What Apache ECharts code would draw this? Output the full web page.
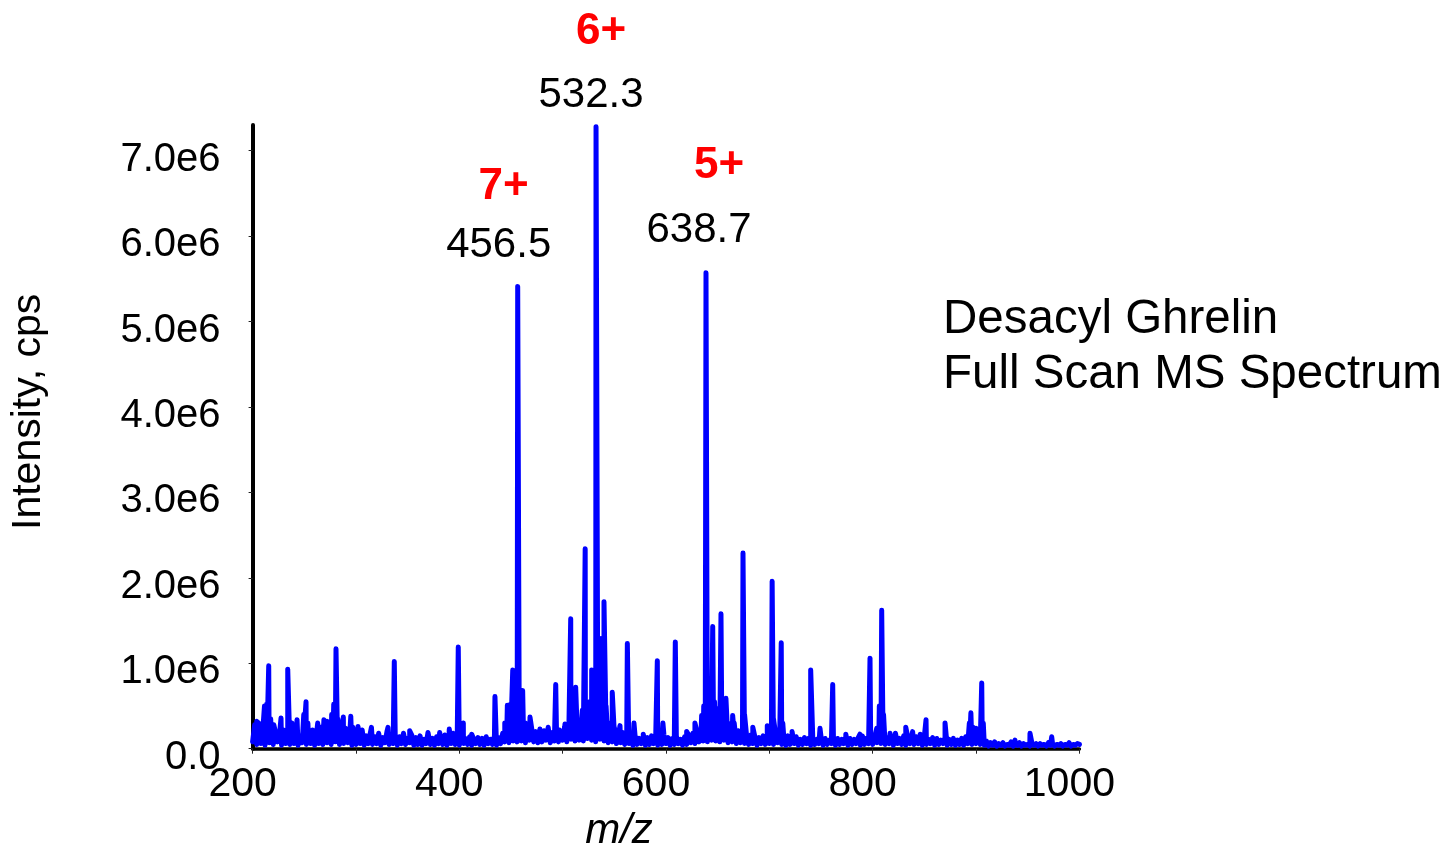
<!DOCTYPE html>
<html>
<head>
<meta charset="utf-8">
<title>Desacyl Ghrelin Full Scan MS Spectrum</title>
<script src="https://cdn.jsdelivr.net/npm/echarts@6/dist/echarts.min.js"></script>
<style>
  html, body { margin: 0; padding: 0; background: #ffffff; overflow: hidden; }
  #chart { width: 1456px; height: 843px; }
</style>
</head>
<body>
<div id="chart"></div>
<script>
const FONT = "'Liberation Sans', Arial, Helvetica, sans-serif";

// m/z axis
const mzMin = 200;
const mzMax = 1000;
const xTickValues = [200, 300, 400, 500, 600, 700, 800, 900, 1000];
const xTickLabels = ['200', '', '400', '', '600', '', '800', '', '1000'];

// intensity axis
const yMax = 7.3e6;
const yTickValues = [0, 1e6, 2e6, 3e6, 4e6, 5e6, 6e6, 7e6];
const yTickLabels = ['0.0', '1.0e6', '2.0e6', '3.0e6', '4.0e6', '5.0e6', '6.0e6', '7.0e6'];

// chemical noise floor, one sample every 2 m/z from 200, in units of 1e4 cps
const noiseStart = 200;
const noiseStep = 2;
const noiseUnit = 1e4;
const noise = [
  8, 28, 5, 30, 6, 24, 4, 18, 7, 22,    // 200
  5, 20, 8, 16, 4, 22, 6, 14, 5, 18,    // 220
  6, 20, 4, 15, 7, 24, 5, 17, 6, 14,    // 240
  4, 19, 6, 25, 5, 16, 7, 21, 5, 26,    // 260
  8, 22, 5, 18, 6, 24, 7, 16, 4, 20,    // 280
  5, 17, 6, 22, 4, 15, 6, 19, 5, 14,    // 300
  6, 18, 4, 13, 7, 20, 5, 16, 6, 15,    // 320
  4, 14, 6, 18, 5, 12, 7, 16, 4, 13,    // 340
  5, 15, 4, 11, 6, 17, 5, 12, 4, 14,    // 360
  6, 13, 5, 16, 4, 12, 6, 18, 5, 14,    // 380
  4, 15, 6, 12, 5, 14, 4, 11, 6, 13,    // 400
  5, 12, 4, 14, 6, 11, 5, 15, 4, 13,    // 420
  6, 18, 8, 22, 7, 25, 9, 28, 8, 24,    // 440
  9, 26, 7, 22, 10, 24, 8, 20, 7, 23,   // 460
  8, 21, 10, 25, 7, 19, 9, 24, 8, 20,   // 480
  10, 26, 8, 22, 11, 28, 9, 24, 10, 27, // 500
  9, 25, 12, 30, 10, 28, 8, 26, 11, 24, // 520
  9, 22, 7, 20, 8, 18, 6, 16, 7, 19,    // 540
  5, 15, 6, 13, 4, 16, 5, 12, 6, 14,    // 560
  4, 13, 5, 15, 6, 12, 4, 14, 5, 16,    // 580
  6, 13, 4, 12, 5, 15, 6, 11, 4, 14,    // 600
  5, 16, 7, 18, 6, 20, 8, 22, 9, 25,    // 620
  8, 24, 10, 26, 9, 22, 8, 25, 10, 23,  // 640
  7, 20, 8, 18, 6, 21, 7, 17, 6, 15,    // 660
  5, 16, 6, 14, 4, 13, 6, 15, 5, 17,    // 680
  6, 15, 5, 18, 7, 14, 5, 13, 4, 15,    // 700
  5, 12, 6, 14, 4, 11, 5, 13, 6, 12,    // 720
  4, 13, 5, 11, 6, 14, 4, 12, 5, 10,    // 740
  6, 13, 4, 12, 5, 11, 6, 14, 4, 12,    // 760
  5, 11, 6, 13, 4, 15, 5, 12, 6, 16,    // 780
  5, 14, 7, 18, 6, 15, 5, 13, 6, 16,    // 800
  4, 14, 6, 12, 5, 15, 4, 13, 6, 16,    // 820
  5, 14, 6, 12, 4, 15, 5, 11, 6, 13,    // 840
  4, 12, 5, 10, 6, 13, 4, 11, 5, 12,    // 860
  4, 10, 5, 12, 4, 14, 6, 13, 5, 15,    // 880
  6, 14, 5, 12, 4, 9, 3, 7, 4, 8,       // 900
  3, 6, 4, 7, 3, 5, 4, 8, 3, 6,         // 920
  4, 7, 3, 6, 4, 5, 3, 7, 4, 6,         // 940
  3, 6, 4, 5, 3, 7, 4, 6, 3, 5,         // 960
  4, 6, 3, 5, 4, 7, 3, 5, 4, 6,         // 980
  5                                     // 1000
];

// ion peaks: [m/z, intensity in 1e6 cps]
const peakUnit = 1e6;
const peaks = [
  [204, 0.32], [207.5, 0.30],
  [211.5, 0.50], [213.5, 0.52], [215.6, 0.97], [217.5, 0.35],
  [220.5, 0.28], [227.5, 0.36], [234, 0.93], [238, 0.30], [243, 0.34],
  [249.5, 0.40], [251.7, 0.55], [253.5, 0.30], [258, 0.22], [263, 0.30],
  [269, 0.34], [272, 0.32],
  [276.5, 0.40], [278.5, 0.52], [280.7, 1.17], [282.5, 0.35],
  [287.8, 0.37], [295, 0.38], [297, 0.25], [302, 0.26],
  [315, 0.25], [322, 0.20], [331, 0.25], [337.1, 1.02],
  [352, 0.21], [369.7, 0.19], [381, 0.19], [390.3, 0.23],
  [399.0, 1.19], [403.9, 0.30], [412, 0.17], [434.5, 0.61],
  [444, 0.30], [446.5, 0.51], [449.5, 0.52], [451.7, 0.92],
  [456.5, 5.41],
  [458.5, 0.60], [461.3, 0.68], [464, 0.30], [468.4, 0.37], [478, 0.19],
  [493.3, 0.75], [497, 0.22], [502.3, 0.29], [507.8, 1.52], [510, 0.35],
  [512.6, 0.72], [516, 0.30], [519, 0.45], [521.8, 2.34], [524, 0.50],
  [526, 0.55], [528.1, 0.92], [530, 0.60],
  [532.3, 7.28],
  [534.5, 0.80], [537.1, 1.29], [538.5, 0.80], [540, 1.72], [542, 0.50],
  [545, 0.30], [548, 0.66], [550, 0.25], [555.5, 0.27], [562.6, 1.23],
  [569, 0.30], [578, 0.17], [591.6, 1.03], [597, 0.30], [609, 1.25],
  [620, 0.20], [628, 0.30], [634.5, 0.39], [636.5, 0.50],
  [638.7, 5.57],
  [640.5, 0.60], [642.2, 0.67], [645.2, 1.43], [647, 0.55], [650, 0.47],
  [653.2, 1.58], [655, 0.50], [658, 0.59], [660, 0.30], [664.5, 0.39],
  [666, 0.30], [674.5, 2.29], [676, 0.40], [684, 0.25], [698, 0.27],
  [702.7, 1.96], [704, 0.35], [711.5, 1.24], [713, 0.30], [722, 0.20],
  [740, 0.92], [749, 0.24], [761.3, 0.75], [774, 0.17], [787.7, 0.17],
  [797.4, 1.06], [803.9, 0.24], [806.4, 0.50], [808.7, 1.62], [810.5, 0.40],
  [816.8, 0.18], [822, 0.18], [832, 0.25], [838.6, 0.20], [846, 0.17],
  [851.6, 0.34], [870, 0.30], [887.7, 0.14],
  [893.5, 0.30], [895, 0.42], [897, 0.25], [900, 0.24],
  [905.5, 0.77], [907, 0.30],
  [937.7, 0.10], [952.2, 0.18], [973.2, 0.14]
];

// charge-state assignments of the labelled ions
const labelledMz = [456.5, 532.3, 638.7];
const chargeStates = ['7+', '6+', '5+'];

// label placement around each labelled apex (pixels)
const mzLabelOffsets = [[-19, -41], [-5, -31], [-7, -42]];
const chargeLabelOffsets = [[-14, -100], [5, -95], [13, -107]];

// ---- assemble the profile trace ----
const points = [];
noise.forEach(function (v, i) {
  points.push([noiseStart + i * noiseStep, v * noiseUnit]);
});
peaks.forEach(function (p) {
  points.push([p[0], p[1] * peakUnit]);
});
points.sort(function (a, b) { return a[0] - b[0]; });

function apexOf(mz) {
  const p = peaks.find(function (q) { return q[0] === mz; });
  return [p[0], p[1] * peakUnit];
}

const mzLabelData = labelledMz.map(function (mz, i) {
  return { value: apexOf(mz), label: { offset: mzLabelOffsets[i] } };
});
const chargeLabelData = labelledMz.map(function (mz, i) {
  return { value: apexOf(mz), name: chargeStates[i], label: { offset: chargeLabelOffsets[i] } };
});

const chart = echarts.init(document.getElementById('chart'), null, { renderer: 'canvas' });

chart.setOption({
  animation: false,
  backgroundColor: '#ffffff',
  textStyle: { fontFamily: FONT },
  title: {
    text: 'Desacyl Ghrelin\nFull Scan MS Spectrum',
    left: 943,
    top: 292,
    padding: 0,
    textStyle: {
      fontFamily: FONT,
      fontSize: 47.5,
      fontWeight: 'normal',
      color: '#000000',
      lineHeight: 55
    }
  },
  grid: {
    left: 252.6,
    right: 376.6,
    top: 125,
    bottom: 94.3,
    containLabel: false,
    outerBoundsMode: 'none'
  },
  xAxis: {
    type: 'value',
    min: mzMin,
    max: mzMax,
    interval: 100,
    name: 'm/z',
    nameLocation: 'middle',
    nameGap: 62,
    nameTextStyle: {
      fontFamily: FONT,
      fontSize: 42,
      fontStyle: 'italic',
      color: '#000000',
      padding: [0, 94, 0, 0]
    },
    axisLine: { show: true, onZero: false, lineStyle: { color: '#000000', width: 3.5 } },
    axisTick: { show: true, length: 5, lineStyle: { color: '#222222', width: 1 } },
    splitLine: { show: false },
    axisLabel: {
      margin: 15,
      fontFamily: FONT,
      fontSize: 41,
      color: '#000000',
      padding: [0, 20, 0, 0],
      formatter: function (v) {
        const i = xTickValues.indexOf(v);
        return i >= 0 ? xTickLabels[i] : '';
      }
    }
  },
  yAxis: {
    type: 'value',
    min: 0,
    max: yMax,
    interval: 1e6,
    name: 'Intensity, cps',
    nameLocation: 'middle',
    nameRotate: 90,
    nameGap: 203,
    nameTextStyle: {
      fontFamily: FONT,
      fontSize: 41,
      color: '#000000',
      padding: [0, 0, 0, 50]
    },
    axisLine: { show: true, onZero: false, lineStyle: { color: '#000000', width: 4 } },
    axisTick: { show: true, length: 4, customValues: yTickValues, lineStyle: { color: '#222222', width: 1 } },
    splitLine: { show: false },
    axisLabel: {
      margin: 32,
      fontFamily: FONT,
      fontSize: 40,
      color: '#000000',
      verticalAlign: 'top',
      lineHeight: 18,
      customValues: yTickValues,
      formatter: function (v) {
        const i = yTickValues.indexOf(v);
        return i >= 0 ? yTickLabels[i] : '';
      }
    }
  },
  series: [
    {
      name: 'TIC profile',
      type: 'line',
      data: points,
      showSymbol: false,
      symbol: 'none',
      smooth: false,
      silent: true,
      clip: true,
      lineStyle: { color: '#0000ff', width: 5, cap: 'round', join: 'round' },
      z: 2
    },
    {
      name: 'm/z labels',
      type: 'scatter',
      data: mzLabelData,
      symbolSize: 0.01,
      itemStyle: { color: '#0000ff' },
      silent: true,
      z: 5,
      label: {
        show: true,
        position: 'inside',
        fontFamily: FONT,
        fontSize: 42,
        color: '#000000',
        opacity: 1,
        textBorderWidth: 0,
        formatter: function (p) { return p.value[0].toFixed(1); }
      }
    },
    {
      name: 'charge states',
      type: 'scatter',
      data: chargeLabelData,
      symbolSize: 0.01,
      itemStyle: { color: '#ff0000' },
      silent: true,
      z: 5,
      label: {
        show: true,
        position: 'inside',
        fontFamily: FONT,
        fontSize: 44,
        fontWeight: 'bold',
        color: '#ff0000',
        opacity: 1,
        textBorderWidth: 0,
        formatter: function (p) { return p.name; }
      }
    }
  ]
});
</script>
</body>
</html>
